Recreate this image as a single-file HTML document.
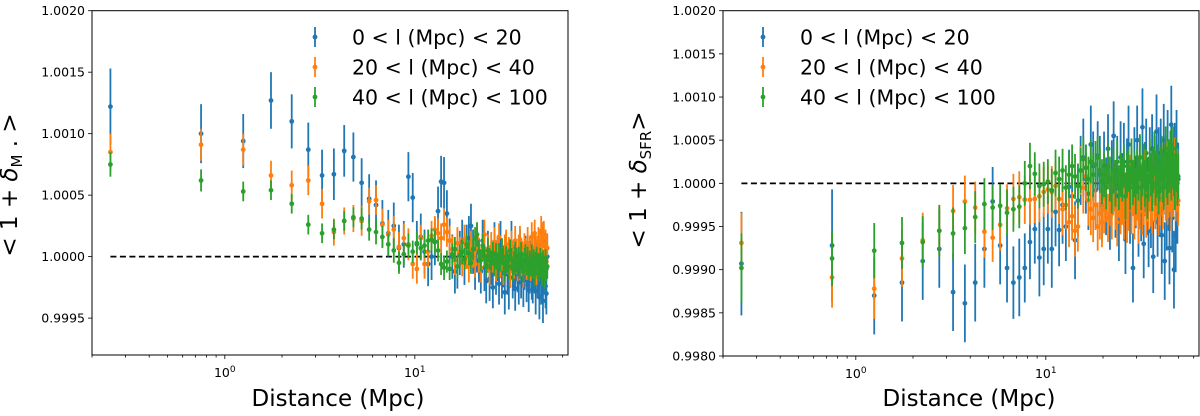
<!DOCTYPE html>
<html><head><meta charset="utf-8"><style>
body{margin:0;background:#fff;width:1200px;height:416px;overflow:hidden}
svg{display:block;font-family:"DejaVu Sans","Liberation Sans",sans-serif}
</style></head><body>
<svg id="chart" width="1200" height="416" viewBox="0 0 1200 416" xmlns="http://www.w3.org/2000/svg"></svg>
<script>
// shared x categories: bin centers (Mpc)
const distances = [];
for (let k = 0; k < 100; k++) distances.push(0.25 + 0.5 * k);
// values in units of 1e-4 relative to 1
const leftBlue = [12.2,10.0,9.4,12.7,11.0,8.7,6.6,6.7,8.6,8.1,6.0,4.7,4.2,2.7,1.9,2.5,0.7,1.0,6.5,4.8,
1.0,1.6,0.4,-0.6,0.0,1.2,3.7,6.1,6.0,3.5,1.3,0.0,-1.2,-0.8,0.3,1.2,-0.5,0.8,1.5,2.5,
0.4,-1.0,0.6,-0.3,-1.2,1.3,-0.9,-2.0,0.4,-1.8,-0.5,-2.5,0.9,-1.3,-0.2,-2.2,1.0,-1.6,-0.8,-2.9,
0.2,-1.4,-2.4,-0.6,1.1,-1.7,-0.9,-2.6,-0.3,-1.1,-2.1,0.5,-1.5,-0.7,-2.3,-1.0,-0.2,-1.9,-0.8,-2.7,
-1.2,-0.4,-1.6,-2.0,-0.9,-1.3,-2.8,-0.5,-1.7,-1.1,-3.3,-0.6,-2.0,-1.5,-3.6,-1.4,-0.8,-2.4,-3.0,0.0];
const leftBlueErr = [3.1,2.4,2.2,2.3,2.2,2.2,2.1,2.1,2.1,2.0,2.0,2.0,2.0,1.9,1.9,1.9,1.9,1.9,2.0,2.0,
1.9,1.9,1.8,1.8,1.9,1.9,2.0,2.1,2.1,1.9,1.8,1.8,1.8,1.8,1.8,1.8,1.8,1.8,1.8,1.8,
1.8,1.7,1.9,1.8,1.8,1.7,1.9,1.8,1.7,1.8,1.8,1.7,1.9,1.8,1.8,1.7,1.9,1.8,1.7,1.8,
1.8,1.7,1.9,1.8,1.8,1.7,1.9,1.8,1.7,1.8,1.8,1.7,1.9,1.8,1.8,1.7,1.9,1.8,1.7,1.8,
1.8,1.7,1.9,1.8,1.8,1.7,1.9,1.8,1.7,1.8,1.8,1.7,1.9,1.8,1.8,1.7,1.9,1.8,1.7,1.8];
const leftOrange = [8.5,9.1,8.7,6.6,5.8,6.2,4.3,2.0,2.9,3.1,2.9,4.5,4.6,2.6,1.8,2.2,0.8,1.5,1.0,-0.6,
-1.0,1.5,-0.6,0.4,1.7,2.2,1.9,1.5,2.6,2.0,1.3,0.6,-0.3,1.1,0.4,-0.5,1.4,0.2,-0.8,0.9,
0.3,-0.6,1.5,0.0,-0.9,0.7,1.8,-0.4,0.5,-1.1,0.8,-0.2,1.2,-0.7,0.3,1.6,-0.5,0.1,-1.0,0.6,
1.0,-0.3,0.4,-1.2,0.9,0.2,-0.6,1.3,-0.1,-0.8,0.6,1.4,-0.4,0.0,-1.3,0.8,0.3,-0.7,1.1,-0.2,
0.5,-0.9,1.6,0.2,-0.5,1.9,0.7,-1.1,0.4,1.2,-0.3,0.9,2.1,1.5,-0.6,1.8,0.3,1.0,-0.4,0.7];
const leftOrangeErr = [1.5,1.3,1.3,1.2,1.2,1.2,1.2,1.1,1.1,1.1,
1.2,1.1,1.2,1.3,1.2,1.1,1.2,1.2,1.3,1.2,1.2,1.1,1.2,1.3,1.2,1.1,1.2,1.2,1.3,1.2,
1.2,1.1,1.2,1.3,1.2,1.1,1.2,1.2,1.3,1.2,1.2,1.1,1.2,1.3,1.2,1.1,1.2,1.2,1.3,1.2,
1.2,1.1,1.2,1.3,1.2,1.1,1.2,1.2,1.3,1.2,1.2,1.1,1.2,1.3,1.2,1.1,1.2,1.2,1.3,1.2,
1.2,1.1,1.2,1.3,1.2,1.1,1.2,1.2,1.3,1.2,1.2,1.1,1.2,1.3,1.2,1.1,1.2,1.2,1.3,1.2,
1.2,1.1,1.2,1.3,1.2,1.1,1.2,1.2,1.3,1.2];
const leftGreen = [7.5,6.2,5.3,5.4,4.3,2.6,1.9,2.2,2.9,3.2,3.1,2.2,2.0,1.6,1.0,0.5,-0.5,0.2,0.9,0.4,
1.1,0.7,0.9,1.3,1.4,1.2,0.5,-0.6,-0.9,-0.4,-1.0,0.2,0.6,-0.8,0.1,0.4,-0.2,1.0,0.3,-0.5,
0.6,1.5,1.8,0.4,-0.3,0.9,0.0,-0.7,0.5,-0.2,-0.4,0.3,-0.6,0.2,-0.9,0.1,-0.3,0.6,-0.5,-1.1,
0.0,-0.4,-0.8,0.5,-0.2,-1.0,-0.6,0.3,-0.3,-0.7,-0.1,-0.9,0.2,-0.5,-1.2,-0.3,0.1,-0.6,-0.2,-1.0,
-0.4,-0.7,0.0,-0.9,-0.3,-1.4,-0.5,-0.1,-0.8,-0.6,-1.1,-0.2,-0.7,-1.5,-0.4,-0.9,-1.7,-0.3,-1.0,-0.8];
const leftGreenErr = [1.0,0.9,0.8,0.8,0.8,0.8,0.8,0.8,0.8,0.8,
0.9,0.9,1.0,0.9,0.9,1.0,0.9,0.9,1.0,0.9,0.9,0.9,1.0,0.9,0.9,1.0,0.9,0.9,1.0,0.9,
0.9,0.9,1.0,0.9,0.9,1.0,0.9,0.9,1.0,0.9,0.9,0.9,1.0,0.9,0.9,1.0,0.9,0.9,1.0,0.9,
0.9,0.9,1.0,0.9,0.9,1.0,0.9,0.9,1.0,0.9,0.9,0.9,1.0,0.9,0.9,1.0,0.9,0.9,1.0,0.9,
0.9,0.9,1.0,0.9,0.9,1.0,0.9,0.9,1.0,0.9,0.9,0.9,1.0,0.9,0.9,1.0,0.9,0.9,1.0,0.9,
0.9,0.9,1.0,0.9,0.9,1.0,0.9,0.9,1.0,0.9];
const rightBlue = [-9.3,-7.2,-13.0,-11.5,-9.0,-7.6,-12.6,-13.9,-11.5,-7.6,-2.1,-7.2,-9.8,-11.5,-10.9,-9.8,-6.8,-5.3,-8.6,-7.6,
-5.3,-7.6,-3.3,-5.4,-2.5,-5.0,-0.4,-1.5,-6.6,-2.0,1.5,3.0,0.5,-1.2,4.5,2.0,-0.8,3.2,1.0,-2.5,
2.0,-1.5,4.0,-3.5,0.5,5.5,-2.0,1.5,-4.5,3.0,-0.5,2.5,-6.5,1.0,4.5,-3.0,0.0,-9.8,2.0,-1.0,
5.0,-4.0,1.5,-2.5,6.5,-7.0,0.5,3.5,-1.5,-5.5,2.5,-3.0,4.0,-8.5,1.0,-0.5,6.0,-4.5,2.0,-2.0,
3.5,-6.0,0.0,5.0,-9.0,1.5,-3.5,4.5,-1.0,-7.5,2.0,6.8,-4.0,0.5,-10.0,3.0,-6.0,4.5,-2.5,0.5];
const rightBlueErr = [6.0,6.5,4.5,4.5,4.5,4.5,4.5,4.5,4.5,4.5,
4.0,4.5,4.0,4.2,4.5,4.0,4.3,4.0,4.5,4.2,4.0,4.5,4.0,4.2,4.5,4.0,4.3,4.0,4.5,4.2,
4.0,4.5,4.0,4.2,4.5,4.0,4.3,4.0,4.5,4.2,4.0,4.5,4.0,4.2,4.5,4.0,4.3,4.0,4.5,4.2,
4.0,4.5,4.0,4.2,4.5,4.0,4.3,4.0,4.5,4.2,4.0,4.5,4.0,4.2,4.5,4.0,4.3,4.0,4.5,4.2,
4.0,4.5,4.0,4.2,4.5,4.0,4.3,4.0,4.5,4.2,4.0,4.5,4.0,4.2,4.5,4.0,4.3,4.0,4.5,4.2,
4.0,4.5,4.0,4.2,4.5,4.0,4.3,4.0,4.5,4.2];
const rightOrange = [-6.9,-10.9,-12.2,-8.7,-6.6,-5.5,-3.2,-2.1,-2.8,-5.6,-6.3,-4.8,-2.9,-1.8,-1.6,-1.9,-1.9,
-1.8,-1.5,-1.0,-0.7,-1.0,-0.3,-1.8,-3.0,-2.5,-4.5,-3.8,-5.5,-5.0,1.5,-0.5,0.8,-2.0,-3.0,-4.0,-2.5,-5.0,-3.5,-4.5,
-3.0,-1.5,-4.0,-2.0,-3.5,-0.5,-2.5,-4.5,-1.0,-3.0,-2.0,-3.5,-1.5,-4.0,-2.5,0.5,-3.0,-1.0,-3.5,-2.0,
-1.5,-4.0,-2.5,-0.5,-3.0,-2.0,1.0,-3.5,-1.5,-2.5,-0.5,-2.0,-3.0,0.5,-1.5,-2.5,-1.0,0.5,-3.0,-2.0,
-1.0,1.5,-2.5,-0.5,0.5,-1.5,2.0,-2.0,-1.0,1.0,-0.5,-2.5,1.5,-1.0,0.0,2.5,-1.5,-0.5,1.0,-2.0];
const rightOrangeErr = [3.5,3.5,3.5,3.3,3.2,3.0,3.0,3.0,3.0,3.0,
2.8,3.0,2.8,2.9,3.0,2.8,2.9,2.8,3.0,2.9,2.8,3.0,2.8,2.9,3.0,2.8,2.9,2.8,3.0,2.9,
2.8,3.0,2.8,2.9,3.0,2.8,2.9,2.8,3.0,2.9,2.8,3.0,2.8,2.9,3.0,2.8,2.9,2.8,3.0,2.9,
2.8,3.0,2.8,2.9,3.0,2.8,2.9,2.8,3.0,2.9,2.8,3.0,2.8,2.9,3.0,2.8,2.9,2.8,3.0,2.9,
2.8,3.0,2.8,2.9,3.0,2.8,2.9,2.8,3.0,2.9,2.8,3.0,2.8,2.9,3.0,2.8,2.9,2.8,3.0,2.9,
2.8,3.0,2.8,2.9,3.0,2.8,2.9,2.8,3.0,2.9];
const rightGreen = [-9.8,-8.7,-7.8,-6.9,-6.8,-5.5,-5.8,-5.2,-3.9,-2.4,-2.8,-2.6,-3.4,-3.0,-2.7,0.0,2.0,1.1,-0.3,
-0.1,0.2,-0.8,1.2,0.5,1.5,-0.5,1.0,2.0,0.8,-0.3,1.5,2.8,1.8,0.5,2.5,1.0,2.2,3.0,1.5,0.2,
1.0,-0.5,2.0,0.5,-1.0,1.5,0.0,2.5,-0.5,1.0,0.5,2.0,-1.5,1.0,1.5,-0.5,2.5,0.0,1.0,-1.0,
1.5,0.5,3.0,-0.5,1.0,2.0,0.0,1.5,-1.5,0.5,2.5,1.0,-0.5,1.5,3.5,0.0,1.0,2.0,-1.0,0.5,
1.5,3.0,0.5,-0.5,2.0,4.0,1.0,0.0,2.5,1.5,3.5,0.5,2.0,4.0,1.0,-0.5,2.5,1.5,0.0,0.8];
const rightGreenErr = [4.0,3.2,3.2,3.0,3.0,3.0,3.0,3.0,3.0,3.0,
2.6,2.5,2.7,2.6,2.5,2.6,2.7,2.5,2.6,2.6,2.6,2.5,2.7,2.6,2.5,2.6,2.7,2.5,2.6,2.6,
2.6,2.5,2.7,2.6,2.5,2.6,2.7,2.5,2.6,2.6,2.6,2.5,2.7,2.6,2.5,2.6,2.7,2.5,2.6,2.6,
2.6,2.5,2.7,2.6,2.5,2.6,2.7,2.5,2.6,2.6,2.6,2.5,2.7,2.6,2.5,2.6,2.7,2.5,2.6,2.6,
2.6,2.5,2.7,2.6,2.5,2.6,2.7,2.5,2.6,2.6,2.6,2.5,2.7,2.6,2.5,2.6,2.7,2.5,2.6,2.6,
2.6,2.5,2.7,2.6,2.5,2.6,2.7,2.5,2.6,2.6];
const leftYTicks = [0.9995,1.0000,1.0005,1.0010,1.0015,1.0020];
const rightYTicks = [0.9980,0.9985,0.9990,0.9995,1.0000,1.0005,1.0010,1.0015,1.0020];
const legendLabels = ["0 < l (Mpc) < 20","20 < l (Mpc) < 40","40 < l (Mpc) < 100"];
const colors = ["#1f77b4","#ff7f0e","#2ca02c"];

const NS = "http://www.w3.org/2000/svg";
const svg = document.getElementById("chart");
function mk(tag, attrs, parent) {
  const e = document.createElementNS(NS, tag);
  for (const k in attrs) e.setAttribute(k, attrs[k]);
  (parent || svg).appendChild(e);
  return e;
}

function panel(cfg) {
  const g = mk("g", {});
  
  
  const X = v => cfg.x1 + (Math.log10(v) - Math.log10(cfg.xmin)) / (Math.log10(cfg.xmax) - Math.log10(cfg.xmin)) * (cfg.x2 - cfg.x1);
  const Y = v => cfg.y2 - (v - cfg.ymin) / (cfg.ymax - cfg.ymin) * (cfg.y2 - cfg.y1);
  const dl = mk("line", {x1: X(0.25), x2: X(50), y1: Y(1), y2: Y(1), stroke: "#000", "stroke-width": 1.8, "stroke-dasharray": "6,3.5"}, g);
  
  
  cfg.series.forEach((s, si) => {
    const sg = mk("g", {}, g);
    
    
    s.vals.forEach((v, i) => {
      const x = X(distances[i]);
      const val = 1 + v * 1e-4, er = s.err[i] * 1e-4;
      const ln = mk("line", {x1: x, x2: x, y1: Y(val - er), y2: Y(val + er), stroke: colors[si], "stroke-width": 1.8}, sg);
      
      
      const c = mk("circle", {cx: x, cy: Y(val), r: 2.4, fill: colors[si]}, sg);
      
      
    });
  });
  const fr = mk("rect", {x: cfg.x1, y: cfg.y1, width: cfg.x2 - cfg.x1, height: cfg.y2 - cfg.y1, fill: "none", stroke: "#000", "stroke-width": 1}, g);
  
  
  cfg.yticks.forEach(t => {
    const y = Y(t);
    mk("line", {x1: cfg.x1 - 4, x2: cfg.x1, y1: y, y2: y, stroke: "#000", "stroke-width": 0.8}, g);
    const tx = mk("text", {x: cfg.x1 - 7, y: y + 4.5, "text-anchor": "end", "font-size": 12.5, fill: "#000"}, g);
    tx.textContent = t.toFixed(4);
    
    
  });
  for (let d = -1; d <= 1; d++) {
    for (let m = 1; m <= 9; m++) {
      const v = m * Math.pow(10, d);
      if (v < cfg.xmin || v > cfg.xmax) continue;
      const x = X(v);
      mk("line", {x1: x, x2: x, y1: cfg.y2, y2: cfg.y2 + (m === 1 ? 4 : 2.5), stroke: "#000", "stroke-width": 0.8}, g);
      if (m === 1) {
        const tx = mk("text", {x: x, y: cfg.y2 + 22, "text-anchor": "middle", "font-size": 12.5, fill: "#000"}, g);
        
        
        tx.appendChild(document.createTextNode("10"));
        const sp = mk("tspan", {dy: -5, "font-size": 9}, tx);
        sp.textContent = String(d);
      }
    }
  }
  const xl = mk("text", {x: (cfg.x1 + cfg.x2) / 2 + 8, y: 406, "text-anchor": "middle", "font-size": 23, fill: "#000"}, g);
  xl.textContent = "Distance (Mpc)";
  
  
  const yl = mk("text", {x: 0, y: 0, "text-anchor": "middle", "font-size": 23, fill: "#000", transform: `translate(${cfg.ylx},${cfg.yly}) rotate(-90)`}, g);
  
  
  yl.appendChild(document.createTextNode("< 1 + "));
  const dsp = mk("tspan", {"font-style": "italic"}, yl); dsp.textContent = "δ";
  const sub = mk("tspan", {dy: 5, "font-size": 15}, yl); sub.textContent = cfg.sub;
  const cl = mk("tspan", {dy: -5}, yl); cl.textContent = cfg.subGap + ">";
  const lg = mk("g", {}, g);
  
  
  legendLabels.forEach((lab, i) => {
    const y = 37 + i * 30;
    const e = mk("g", {}, lg);
    
    
    mk("line", {x1: cfg.legx, x2: cfg.legx, y1: y - 10, y2: y + 10, stroke: colors[i], "stroke-width": 1.8}, e);
    mk("circle", {cx: cfg.legx, cy: y, r: 2.4, fill: colors[i]}, e);
    const t = mk("text", {x: cfg.legx + 37, y: y + 7.5, "font-size": 20.5, fill: "#000"}, e);
    t.textContent = lab;
  });
}

panel({name: "left-panel", x1: 92, x2: 568, y1: 10.7, y2: 355, xmin: 0.2, xmax: 64,
  ymin: 0.99920, ymax: 1.0020, yticks: leftYTicks, ylx: 17, yly: 185, sub: "M", subGap: " . ", legx: 315,
  series: [{vals: leftBlue, err: leftBlueErr}, {vals: leftOrange, err: leftOrangeErr}, {vals: leftGreen, err: leftGreenErr}]});
panel({name: "right-panel", x1: 723, x2: 1199, y1: 10.7, y2: 356, xmin: 0.2, xmax: 64,
  ymin: 0.9980, ymax: 1.0020, yticks: rightYTicks, ylx: 646, yly: 180, sub: "SFR", subGap: "", legx: 763,
  series: [{vals: rightBlue, err: rightBlueErr}, {vals: rightOrange, err: rightOrangeErr}, {vals: rightGreen, err: rightGreenErr}]});
</script>
</body></html>
